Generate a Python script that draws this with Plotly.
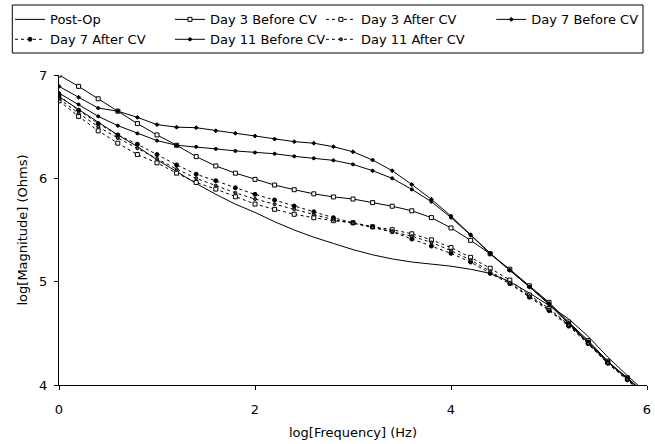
import plotly.graph_objects as go

# log10 frequency grid, five points per decade
log_freq = [round(0.2 * i, 1) for i in range(31)]

post_op = [6.79, 6.667, 6.545, 6.42, 6.307, 6.18, 6.066, 5.95, 5.845, 5.75, 5.67,
           5.58, 5.50, 5.43, 5.37, 5.31, 5.26, 5.22, 5.19, 5.17, 5.15, 5.12, 5.08,
           5.00, 4.89, 4.77, 4.64, 4.47, 4.27, 4.09, 3.92]
day3_before = [7.00, 6.89, 6.77, 6.65, 6.53, 6.42, 6.32, 6.21, 6.12, 6.05, 5.99,
               5.935, 5.89, 5.85, 5.82, 5.80, 5.765, 5.73, 5.686, 5.62, 5.52, 5.40,
               5.27, 5.12, 4.96, 4.80, 4.61, 4.43, 4.23, 4.07, 3.90]
day3_after = [6.75, 6.60, 6.46, 6.34, 6.23, 6.15, 6.05, 5.96, 5.896, 5.822, 5.751,
              5.70, 5.652, 5.619, 5.59, 5.57, 5.531, 5.503, 5.463, 5.405, 5.33, 5.235,
              5.13, 5.015, 4.87, 4.74, 4.585, 4.41, 4.22, 4.06, 3.89]
day7_before = [6.89, 6.785, 6.68, 6.65, 6.59, 6.52, 6.495, 6.49, 6.46, 6.436, 6.41,
               6.38, 6.355, 6.34, 6.306, 6.257, 6.177, 6.074, 5.94, 5.797, 5.635, 5.455,
               5.275, 5.11, 4.95, 4.79, 4.60, 4.42, 4.22, 4.07, 3.90]
day7_after = [6.80, 6.66, 6.53, 6.42, 6.33, 6.23, 6.13, 6.04, 5.977, 5.909, 5.845,
              5.79, 5.732, 5.677, 5.619, 5.57, 5.531, 5.483, 5.412, 5.345, 5.274, 5.19,
              5.08, 4.98, 4.85, 4.72, 4.57, 4.40, 4.21, 4.05, 3.88]
day11_before = [6.825, 6.715, 6.60, 6.51, 6.435, 6.365, 6.32, 6.305, 6.285, 6.265,
                6.25, 6.238, 6.213, 6.194, 6.174, 6.135, 6.074, 6.00, 5.893, 5.774,
                5.62, 5.45, 5.27, 5.11, 4.95, 4.78, 4.59, 4.41, 4.22, 4.06, 3.90]
day11_after = [6.77, 6.63, 6.50, 6.39, 6.29, 6.19, 6.09, 6.00, 5.93, 5.86, 5.80,
               5.75, 5.70, 5.65, 5.60, 5.565, 5.525, 5.485, 5.44, 5.38, 5.30, 5.21,
               5.10, 4.99, 4.86, 4.73, 4.58, 4.40, 4.21, 4.05, 3.88]

x_ticks = [0, 2, 4, 6]
y_ticks = [4, 5, 6, 7]

FONT = "DejaVu Sans"

# name, values, dash, marker symbol, marker size, marker fill, legend column
series = [
    ("Post-Op", post_op, "solid", None, None, None, "legend"),
    ("Day 3 Before CV", day3_before, "solid", "square", 4, "white", "legend2"),
    ("Day 3 After CV", day3_after, "dot", "square", 4, "white", "legend3"),
    ("Day 7 Before CV", day7_before, "solid", "diamond", 3, "black", "legend4"),
    ("Day 7 After CV", day7_after, "dot", "circle", 4, "black", "legend"),
    ("Day 11 Before CV", day11_before, "solid", "circle", 3, "black", "legend2"),
    ("Day 11 After CV", day11_after, "dot", "circle", 3, "#555555", "legend3"),
]

fig = go.Figure()
for name, vals, dash, symbol, size, fill, leg in series:
    common = dict(x=log_freq, y=vals, name=name, legend=leg,
                  line=dict(color="black", width=1, dash=dash))
    if symbol is None:
        fig.add_trace(go.Scatter(mode="lines", **common))
    else:
        fig.add_trace(go.Scatter(
            mode="lines+markers",
            marker=dict(symbol=symbol, size=size, color=fill,
                        line=dict(color="black", width=1)),
            **common,
        ))


def legend_column(x):
    # a wide entry width makes each horizontal legend stack its two items
    return dict(
        orientation="h",
        xref="container", yref="container",
        x=x, y=0.99, xanchor="left", yanchor="top",
        borderwidth=0, bgcolor="rgba(0,0,0,0)",
        font=dict(family=FONT, size=13),
        itemwidth=30,
        entrywidth=400, entrywidthmode="pixels",
    )


fig.update_layout(
    width=655, height=444,
    margin=dict(l=59, r=4, t=75, b=59),
    paper_bgcolor="white", plot_bgcolor="white",
    font=dict(family=FONT, size=12, color="black"),
    showlegend=True,
    legend=legend_column(0.0153),
    legend2=legend_column(0.2595),
    legend3=legend_column(0.490),
    legend4=legend_column(0.750),
    shapes=[
        # frame around the four legend columns
        dict(type="rect", xref="paper", yref="paper",
             x0=-0.0794, x1=0.9932, y0=1.071, y1=1.2258,
             line=dict(color="black", width=1), fillcolor="rgba(0,0,0,0)",
             layer="below"),
    ],
)
fig.update_xaxes(
    range=[0, 6], tickvals=x_ticks, ticktext=[str(v) for v in x_ticks],
    showgrid=False, zeroline=False,
    showline=True, linecolor="black", linewidth=1,
    ticks="outside", ticklen=4, tickcolor="black",
    ticklabeloverflow="allow", ticklabelstandoff=8,
    tickfont=dict(family=FONT, size=13),
    title=dict(text="log[Frequency] (Hz)", font=dict(family=FONT, size=13), standoff=12),
)
fig.update_yaxes(
    range=[4, 7], tickvals=y_ticks, ticktext=[str(v) for v in y_ticks],
    showgrid=False, zeroline=False,
    showline=True, linecolor="black", linewidth=1,
    ticks="outside", ticklen=4, tickcolor="black",
    ticklabelstandoff=4,
    tickfont=dict(family=FONT, size=13),
    title=dict(text="log[Magnitude] (Ohms)", font=dict(family=FONT, size=13), standoff=8),
)

fig.write_html("out.html")
